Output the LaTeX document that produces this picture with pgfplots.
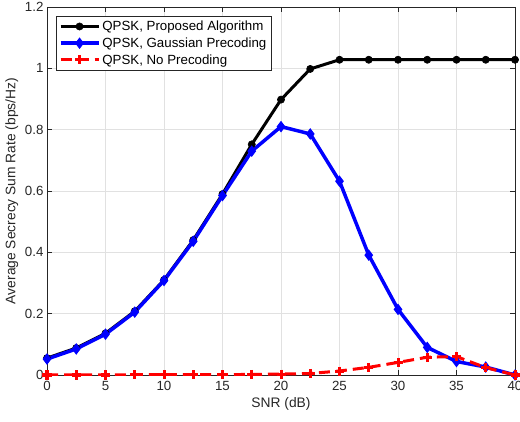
\documentclass[border=0pt]{standalone}
\usepackage{pgfplots}
\pgfplotsset{compat=1.18}
\usepackage{fontspec}
\setmainfont{Liberation Sans}

\definecolor{axgray}{RGB}{38,38,38}
\definecolor{gridgray}{RGB}{225,225,225}

\newcommand{\tickfont}{\fontsize{13.3bp}{15bp}\selectfont}
\newcommand{\labfont}{\fontsize{13.8bp}{16bp}\selectfont}

\begin{document}
\begin{tikzpicture}
\begin{axis}[
  name=ax,
  scale only axis,
  width=468bp, height=368bp,
  xmin=0, xmax=40, ymin=0, ymax=1.2,
  xtick={0,5,10,15,20,25,30,35,40},
  ytick={0,0.2,0.4,0.6,0.8,1,1.2},
  /pgf/number format/assume math mode=true,
  tick label style={font=\tickfont, text=axgray},
  label style={font=\labfont, text=axgray},
  xlabel={SNR (dB)},
  ylabel={Average Secrecy Sum Rate (bps/Hz)},
  xticklabel style={yshift=-3bp},
  grid=major,
  major grid style={gridgray, line width=0.8bp},
  axis line style={axgray, line width=0.8bp},
  tick style={axgray, line width=0.8bp},
  tick align=inside,
  major tick length=5bp,
  legend cell align=left,
  legend style={at={(0.019,0.9755)}, anchor=north west, draw=axgray,
    line width=0.8bp, fill=white, font=\tickfont,
    inner sep=2.5bp, row sep=1.6bp,
    nodes={inner sep=2bp}},
  legend image code/.code={%
    \draw[mark repeat=2, mark phase=2] plot coordinates {(0bp,0bp) (19bp,0bp) (38bp,0bp)};},
]
% proposed algorithm
\addplot[black, line width=3bp, mark=*, mark size=3.6bp, mark options={solid, line width=0.6bp}]
  coordinates {
  (0,0.055) (2.5,0.088) (5,0.136) (7.5,0.208) (10,0.310) (12.5,0.440)
  (15,0.590) (17.5,0.752) (20,0.898) (22.5,0.998) (25,1.028) (27.5,1.028)
  (30,1.028) (32.5,1.028) (35,1.028) (37.5,1.028) (40,1.028)};
\addlegendentry{QPSK, Proposed Algorithm}
% gaussian precoding
\addplot[blue, line width=3.5bp, mark=diamond*, mark size=5bp,
  mark options={solid, fill=blue, line width=1bp}]
  coordinates {
  (0,0.052) (2.5,0.085) (5,0.133) (7.5,0.205) (10,0.308) (12.5,0.436)
  (15,0.585) (17.5,0.730) (20,0.810) (22.5,0.786) (25,0.632) (27.5,0.391)
  (30,0.214) (32.5,0.090) (35,0.044) (37.5,0.026) (40,0.000)};
\addlegendentry{QPSK, Gaussian Precoding}
% no precoding
\addplot[red, line width=3bp, dash pattern=on 11bp off 6bp, mark=+, mark size=4.5bp,
  mark options={solid, line width=3bp}]
  coordinates {
  (0,0.000) (2.5,0.000) (5,0.000) (7.5,0.001) (10,0.001) (12.5,0.001)
  (15,0.001) (17.5,0.002) (20,0.003) (22.5,0.005) (25,0.013) (27.5,0.025)
  (30,0.041) (32.5,0.058) (35,0.060) (37.5,0.024) (40,0.000)};
\addlegendentry{QPSK, No Precoding}
\end{axis}
\pgfresetboundingbox
\path ([xshift=-47bp,yshift=-47bp]ax.south west) rectangle ([xshift=5bp,yshift=7bp]ax.north east);
\end{tikzpicture}
\end{document}
